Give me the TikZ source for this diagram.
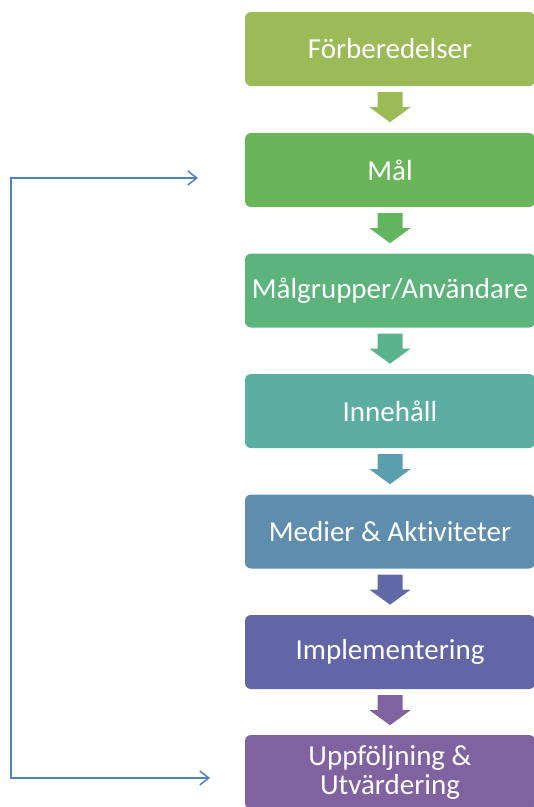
\documentclass[tikz,border=0pt]{standalone}
\usepackage{fontspec}
\setmainfont{Carlito}[RawFeature={-liga;-clig;-dlig;-calt}]
\usetikzlibrary{calc}
\usetikzlibrary{arrows.meta}

\definecolor{colA}{HTML}{9BBB59}
\definecolor{colB}{HTML}{6AB55A}
\definecolor{colC}{HTML}{5CB37C}
\definecolor{colD}{HTML}{5CAEA3}
\definecolor{colE}{HTML}{5F8DAE}
\definecolor{colF}{HTML}{6266A6}
\definecolor{colG}{HTML}{8062A0}
\definecolor{arrB}{HTML}{62B55E}
\definecolor{arrC}{HTML}{5BB38E}
\definecolor{arrD}{HTML}{5B9FAE}
\definecolor{arrE}{HTML}{6068A6}
\definecolor{fbblue}{HTML}{4F81BD}

\tikzset{
  stepbox/.style={rectangle, rounded corners=6pt, minimum width=290pt, minimum height=74pt,
                  inner sep=2pt, text=white, align=center,
                  font=\fontsize{29}{31}\selectfont},
  feedback/.style={draw=fbblue, line width=1.5pt, {Straight Barb[length=9pt,width=14pt]}-{Straight Barb[length=9pt,width=14pt]}}
}

\begin{document}
\begin{tikzpicture}[x=1pt, y=-1pt]
\useasboundingbox (0,0) rectangle (534,807);
\begin{scope}

  % the steps
  \node[stepbox, fill=colA] (forb) at (390,49) {Förberedelser};
  \node[stepbox, fill=colB] (mal) at (390,170) {Mål};
  \node[stepbox, fill=colC] (malgr) at (390,290.5) {Målgrupper/Användare};
  \node[stepbox, fill=colD] (innehall) at (390,411) {Innehåll};
  \node[stepbox, fill=colE] (medier) at (390,531.5) {Medier \& Aktiviteter};
  \node[stepbox, fill=colF] (impl) at (390,652) {Implementering};
  \node[stepbox, fill=colG] (uppf) at (390,772) {Uppföljning \&\\[-2pt] Utvärdering};

  % block arrows between the steps
  \foreach \a/\c in {forb/colA, mal/arrB, malgr/arrC, innehall/arrD, medier/arrE, impl/colG} {
    \fill[\c] ($(\a.south)+(0,6)$) ++(-12.5,0) -- ++(25,0) -- ++(0,15) -- ++(8,0)
          -- ++(-20.5,15) -- ++(-20.5,-15) -- ++(8,0) -- cycle;
  }

  % feedback loop
  \coordinate (fbtop) at (198,178);
  \coordinate (fbleft) at (11,478);
  \coordinate (fbbot) at (210,778);
  \draw[feedback] (fbtop) -| (fbleft) |- (fbbot);

\end{scope}
\end{tikzpicture}
\end{document}
